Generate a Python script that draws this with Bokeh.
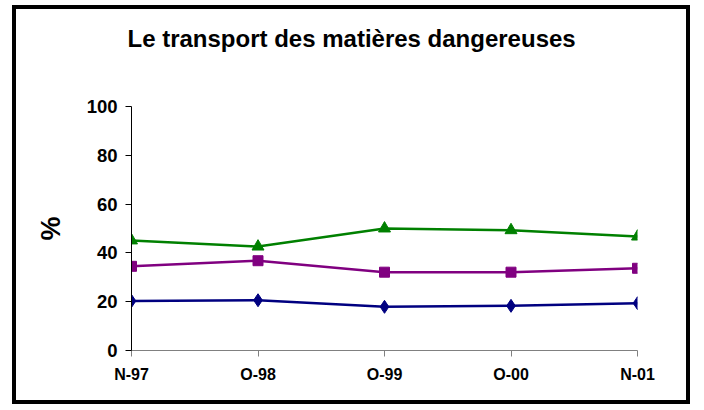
from bokeh.plotting import figure
from bokeh.models import Range1d, FixedTicker, Title
from bokeh.embed import file_html
from bokeh.resources import INLINE

categories = ["N-97", "O-98", "O-99", "O-00", "N-01"]
series_green = [45.1, 42.6, 50.0, 49.3, 46.7]
series_purple = [34.5, 36.8, 32.1, 32.1, 33.7]
series_blue = [20.3, 20.6, 17.9, 18.3, 19.4]
y_ticks = [0, 20, 40, 60, 80, 100]
title_text = "Le transport des matières dangereuses"
y_label = "%"

xs = list(range(len(categories)))

p = figure(width=678, height=399, output_backend="svg", toolbar_location=None, title=None,
           x_range=Range1d(0, len(categories) - 1), y_range=Range1d(0, 100),
           min_border_left=115, min_border_right=57, min_border_top=97, min_border_bottom=58)
p.styles = {"border": "4px solid black", "margin-left": "12px", "margin-top": "5px"}
p.outline_line_color = None
p.xgrid.visible = False
p.ygrid.visible = False
p.background_fill_color = "white"
p.border_fill_color = "white"

FONT = "Liberation Sans"

# spacer (closest to the frame), then the main title above it
p.add_layout(Title(text=" ", text_font_size="1px", standoff=52), "above")
p.add_layout(Title(text=title_text, align="left", offset=-4, standoff=0,
                   text_font=FONT, text_font_style="bold", text_font_size="24px",
                   text_color="black"), "above")

p.xaxis.ticker = FixedTicker(ticks=xs)
p.xaxis.major_label_overrides = {i: c for i, c in zip(xs, categories)}
p.xaxis.minor_tick_line_color = None
p.xaxis.axis_line_color = "#808080"
p.xaxis.major_tick_line_color = "#808080"
p.xaxis.major_tick_out = 6
p.xaxis.major_tick_in = 0
p.xaxis.major_label_text_font = FONT
p.xaxis.major_label_text_font_style = "bold"
p.xaxis.major_label_text_font_size = "16px"
p.xaxis.major_label_text_color = "black"
p.xaxis.major_label_standoff = 9

p.yaxis.ticker = FixedTicker(ticks=y_ticks)
p.yaxis.minor_tick_line_color = None
p.yaxis.axis_line_color = "black"
p.yaxis.major_tick_line_color = "black"
p.yaxis.major_tick_out = 6
p.yaxis.major_tick_in = 0
p.yaxis.major_label_text_font = FONT
p.yaxis.major_label_text_font_style = "bold"
p.yaxis.major_label_text_font_size = "18.5px"
p.yaxis.major_label_text_color = "black"
p.yaxis.major_label_standoff = 8
p.yaxis.axis_label = y_label
p.yaxis.axis_label_text_font = FONT
p.yaxis.axis_label_text_font_style = "bold"
p.yaxis.axis_label_text_font_size = "27px"
p.yaxis.axis_label_text_color = "black"
p.yaxis.axis_label_standoff = 18

p.line(xs, series_blue, line_color="#000080", line_width=2.5)
p.scatter(xs, series_blue, marker="diamond", size=13, fill_color="#000080", line_color="#000080")
p.line(xs, series_purple, line_color="#800080", line_width=2.5)
p.scatter(xs, series_purple, marker="square", size=10, fill_color="#800080", line_color="#800080")
p.line(xs, series_green, line_color="#008000", line_width=2.5)
p.scatter(xs, series_green, marker="triangle", size=12, fill_color="#008000", line_color="#008000")

open("out.html", "w").write(file_html(p, INLINE))
